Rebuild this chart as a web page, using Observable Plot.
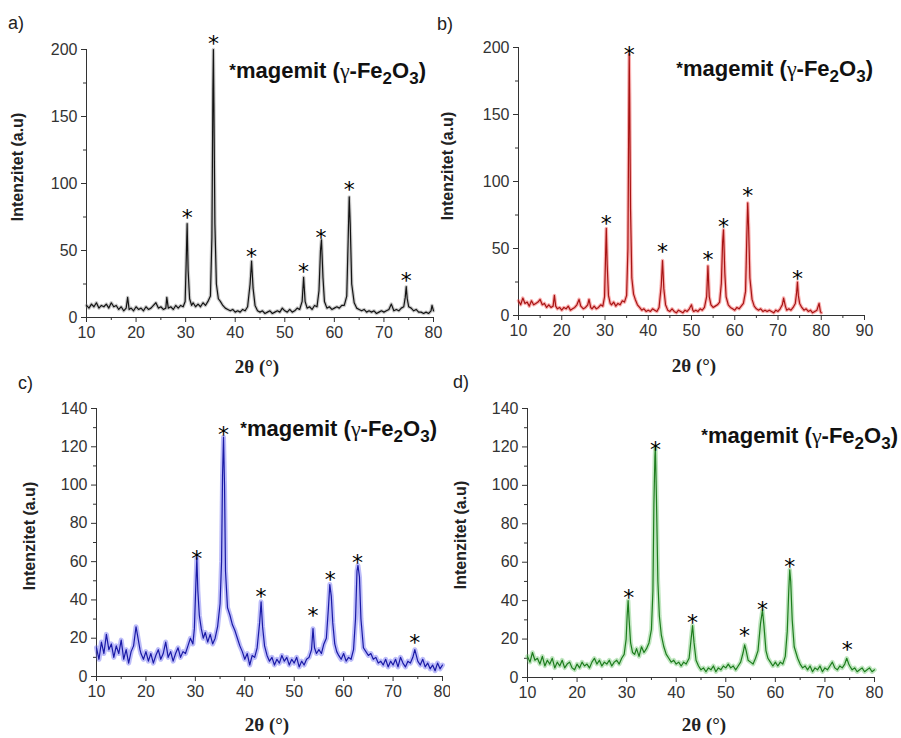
<!DOCTYPE html>
<html>
<head>
<meta charset="utf-8">
<script src="https://cdn.jsdelivr.net/npm/d3@7"></script>
<script src="https://cdn.jsdelivr.net/npm/@observablehq/plot@0.6"></script>
<style>
  html, body { margin: 0; padding: 0; background: white; }
  #wrap { position: relative; width: 901px; height: 738px; overflow: hidden; background: white; }
  .pane { position: absolute; }
  #overlay { position: absolute; left: 0; top: 0; pointer-events: none; }
</style>
</head>
<body>
<div id="wrap"></div>
<script>
// ---------------- DATA ----------------
const patternA = [[10,9],[10.5,7],[11,10],[11.5,8],[12,11],[12.5,7],[13,9],[13.5,8],[14,10],[14.5,7],[15,11],[15.5,8],[16,9],[16.5,6],[17,8],[17.5,5],[18,7],[18.3,15],[18.6,6],[19,7],[19.5,5],[20,8],[20.5,6],[21,7],[21.5,5],[22,8],[22.5,6],[23,7],[23.5,9],[24,11],[24.5,7],[25,8],[25.5,6],[26,7],[26.2,15],[26.5,7],[27,8],[27.5,6],[28,9],[28.5,7],[29,9],[29.5,8],[29.9,12],[30.1,40],[30.3,70],[30.5,35],[30.8,14],[31.2,9],[31.5,11],[32,8],[32.5,10],[33,8],[33.5,11],[34,9],[34.5,12],[35,16],[35.3,60],[35.5,170],[35.6,200],[35.7,160],[35.9,70],[36.2,25],[36.6,14],[37,12],[37.5,9],[38,7],[38.5,6],[39,5],[39.5,6],[40,4],[40.5,5],[41,4],[41.5,6],[42,5],[42.5,8],[43,25],[43.3,42],[43.6,22],[44,9],[44.5,5],[45,4],[45.5,5],[46,3],[46.5,4],[47,5],[47.5,3],[48,4],[48.5,5],[49,4],[49.5,7],[50,5],[50.5,4],[51,6],[51.5,4],[52,5],[52.5,7],[53,6],[53.5,12],[53.8,30],[54.1,12],[54.5,7],[55,8],[55.5,6],[56,9],[56.5,8],[56.9,20],[57.2,50],[57.4,58],[57.7,30],[58,12],[58.5,7],[59,8],[59.5,6],[60,7],[60.5,8],[61,7],[61.5,9],[62,9],[62.5,16],[62.8,60],[63,90],[63.2,70],[63.5,25],[64,11],[64.5,7],[65,6],[65.5,5],[66,6],[66.5,4],[67,5],[67.5,4],[68,5],[68.5,3],[69,4],[69.5,5],[70,4],[70.5,5],[71,6],[71.5,10],[72,5],[72.5,6],[73,5],[73.5,7],[74,8],[74.3,15],[74.5,23],[74.7,14],[75,8],[75.5,7],[76,5],[76.5,6],[77,4],[77.5,4],[78,3],[78.5,4],[79,3],[79.5,5],[79.7,9],[80,5]];

const patternB = [[10,11],[10.5,8],[11,13],[11.5,9],[12,10],[12.5,7],[13,11],[13.5,8],[14,9],[14.5,10],[15,12],[15.5,8],[16,9],[16.5,6],[17,8],[17.5,6],[18,7],[18.3,15],[18.6,7],[19,5],[19.5,6],[20,4],[20.5,6],[21,5],[21.5,7],[22,4],[22.5,5],[23,6],[23.5,8],[24,12],[24.4,7],[25,5],[25.5,6],[26,8],[26.3,12],[26.7,6],[27,5],[27.5,7],[28,5],[28.5,6],[29,8],[29.5,7],[29.9,14],[30.1,40],[30.3,65],[30.5,38],[30.8,15],[31.2,9],[31.5,8],[32,10],[32.5,7],[33,9],[33.5,8],[34,11],[34.5,10],[35,15],[35.3,50],[35.5,150],[35.6,195],[35.7,165],[35.9,80],[36.2,28],[36.6,16],[37,12],[37.5,8],[38,6],[38.5,4],[39,5],[39.5,3],[40,4],[40.5,3],[41,5],[41.5,4],[42,3],[42.5,6],[43,22],[43.3,41],[43.6,20],[44,8],[44.5,4],[45,3],[45.5,5],[46,3],[46.5,2],[47,4],[47.5,3],[48,2],[48.5,4],[49,3],[49.5,5],[50,8],[50.3,4],[50.5,3],[51,4],[51.5,3],[52,5],[52.5,4],[53,6],[53.5,14],[53.8,37],[54.1,14],[54.5,8],[55,6],[55.5,7],[56,8],[56.5,10],[56.9,24],[57.2,55],[57.4,64],[57.7,32],[58,14],[58.5,8],[59,6],[59.5,5],[60,4],[60.5,6],[61,5],[61.5,7],[62,9],[62.5,18],[62.8,60],[63,84],[63.2,66],[63.5,28],[64,12],[64.5,7],[65,5],[65.5,4],[66,5],[66.5,3],[67,4],[67.5,3],[68,4],[68.5,3],[69,2],[69.5,4],[70,3],[70.5,5],[71,8],[71.3,13],[71.7,7],[72,4],[72.5,5],[73,4],[73.5,6],[74,9],[74.3,17],[74.5,25],[74.7,15],[75,9],[75.5,6],[76,4],[76.5,5],[77,3],[77.5,4],[78,2],[78.5,3],[79,4],[79.5,9],[79.8,3],[80,2]];

const patternC = [[10,15],[10.5,9],[11,18],[11.5,12],[12,22],[12.5,14],[13,17],[13.5,10],[14,16],[14.5,12],[15,19],[15.5,9],[16,14],[16.5,7],[17,13],[17.5,16],[18,26],[18.4,20],[18.8,14],[19,12],[19.5,9],[20,13],[20.5,8],[21,12],[21.5,7],[22,11],[22.5,14],[23,9],[23.5,12],[24,18],[24.5,10],[25,13],[25.5,8],[26,12],[26.5,15],[27,10],[27.5,13],[28,12],[28.5,16],[29,20],[29.5,17],[29.8,25],[30.1,48],[30.3,62],[30.5,45],[30.8,32],[31.2,25],[31.6,20],[32,23],[32.5,18],[33,22],[33.5,17],[34,20],[34.5,26],[35,38],[35.3,60],[35.5,105],[35.7,125],[35.9,100],[36.1,55],[36.5,36],[37,32],[37.5,27],[38,24],[38.5,20],[39,16],[39.5,13],[40,9],[40.5,12],[41,6],[41.5,11],[42,10],[42.5,15],[43,28],[43.3,39],[43.6,26],[44,16],[44.5,11],[45,8],[45.5,10],[46,6],[46.5,9],[47,7],[47.5,11],[48,8],[48.5,10],[49,6],[49.5,9],[50,7],[50.5,10],[51,5],[51.5,8],[52,6],[52.5,9],[53,10],[53.5,14],[53.8,25],[54.1,15],[54.5,12],[55,14],[55.5,12],[56,17],[56.5,20],[56.9,35],[57.2,48],[57.5,42],[57.8,28],[58.2,17],[58.6,13],[59,11],[59.5,9],[60,12],[60.5,8],[61,10],[61.5,9],[62,14],[62.4,30],[62.7,55],[62.9,58],[63.2,52],[63.5,30],[64,15],[64.5,13],[65,11],[65.5,12],[66,9],[66.5,10],[67,7],[67.5,8],[68,6],[68.5,9],[69,5],[69.5,8],[70,6],[70.5,9],[71,5],[71.5,10],[72,7],[72.5,5],[73,8],[73.5,7],[74,10],[74.4,14],[74.8,10],[75,8],[75.5,6],[76,9],[76.5,5],[77,7],[77.5,4],[78,6],[78.5,3],[79,7],[79.5,4],[80,6]];

const patternD = [[10,11],[10.5,8],[11,13],[11.5,9],[12,10],[12.5,7],[13,11],[13.5,6],[14,9],[14.5,7],[15,10],[15.5,5],[16,8],[16.5,6],[17,9],[17.5,5],[18,7],[18.5,8],[19,5],[19.5,4],[20,7],[20.5,5],[21,8],[21.5,6],[22,7],[22.5,5],[23,8],[23.5,10],[24,7],[24.5,9],[25,6],[25.5,8],[26,7],[26.5,9],[27,6],[27.5,8],[28,9],[28.5,7],[29,10],[29.5,12],[29.9,20],[30.1,32],[30.3,40],[30.5,30],[30.8,18],[31.2,13],[31.6,12],[32,15],[32.5,11],[33,16],[33.5,13],[34,15],[34.5,18],[35,25],[35.3,45],[35.5,90],[35.7,115],[35.8,120],[36,95],[36.3,50],[36.6,32],[37,22],[37.5,16],[38,12],[38.5,10],[39,8],[39.5,9],[40,7],[40.5,8],[41,6],[41.5,8],[42,7],[42.6,10],[43,20],[43.3,27],[43.6,18],[44,9],[44.5,6],[45,4],[45.5,5],[46,3],[46.5,5],[47,4],[47.5,6],[48,3],[48.5,5],[49,4],[49.5,6],[50,5],[50.5,7],[51,5],[51.5,6],[52,4],[52.5,6],[53,8],[53.5,13],[53.8,17],[54.1,14],[54.5,9],[55,8],[55.5,7],[56,10],[56.5,14],[57,28],[57.4,35],[57.7,27],[58.1,14],[58.5,10],[59,8],[59.5,6],[60,8],[60.5,6],[61,8],[61.5,7],[62,11],[62.4,24],[62.7,45],[62.9,56],[63.1,50],[63.4,30],[63.8,16],[64.5,10],[65,7],[65.5,5],[66,6],[66.5,4],[67,6],[67.5,3],[68,5],[68.5,4],[69,6],[69.5,3],[70,5],[70.5,4],[71,6],[71.5,8],[72,5],[72.5,4],[73,6],[73.5,5],[74,7],[74.4,10],[74.8,7],[75,6],[75.5,4],[76,5],[76.5,3],[77,4],[77.5,5],[78,3],[78.5,4],[79,5],[79.5,3],[80,4]];

// peak markers (2θ, marker height)
const starsA = [[30.3,78],[35.6,208],[43.3,49],[53.8,38],[57.3,63],[63.0,99],[74.5,31]];
const starsB = [[30.3,72],[35.6,198],[43.3,51],[53.8,45],[57.4,70],[63.0,93],[74.5,31]];
const starsC = [[30.3,64],[35.7,129],[43.3,44],[53.8,34],[57.3,53],[62.8,62],[74.4,20]];
const starsD = [[30.4,44],[35.8,121],[43.3,31],[53.8,24],[57.4,38],[62.9,60],[74.5,17]];

// tick labels
const xTicks80 = [10,20,30,40,50,60,70,80];
const xMinor80 = [15,25,35,45,55,65,75];
const xTicks90 = [10,20,30,40,50,60,70,80,90];
const xMinor90 = [15,25,35,45,55,65,75,85];
const yTicks200 = [0,50,100,150,200];
const yMinor200 = [25,75,125,175];
const yTicks140 = [0,20,40,60,80,100,120,140];
const yMinor140 = [10,30,50,70,90,110,130];

const panelLetters = ["a)","b)","c)","d)"];
const yLabel = "Intenzitet (a.u)";
const xLabel = "2θ (°)";

// ---------------- DRAWING ----------------
const wrap = document.getElementById("wrap");

function panel(cfg) {
  const p = Plot.plot({
    width: cfg.w, height: cfg.h,
    marginLeft: cfg.ml, marginRight: cfg.mr, marginTop: cfg.mt, marginBottom: cfg.mb,
    style: {fontFamily: "'Liberation Sans', Arial, sans-serif", fontSize: "16px", color: "#333", background: "white"},
    x: {domain: cfg.xDomain},
    y: {domain: cfg.yDomain},
    marks: [
      Plot.axisX({ticks: cfg.xTicks, tickSize: 5, tickPadding: 4, label: null}),
      Plot.axisX({ticks: cfg.xMinor, tickSize: 3, tickFormat: () => "", label: null}),
      Plot.axisY({ticks: cfg.yTicks, tickSize: 5, tickPadding: 4, label: null}),
      Plot.axisY({ticks: cfg.yMinor, tickSize: 3, tickFormat: () => "", label: null}),
      Plot.ruleY([cfg.yDomain[0]], {stroke: "#333"}),
      Plot.ruleX([cfg.xDomain[0]], {stroke: "#333"}),
      Plot.line(cfg.data, {x: d => d[0], y: d => d[1], stroke: cfg.halo, strokeWidth: cfg.hw, strokeOpacity: 0.4}),
      Plot.line(cfg.data, {x: d => d[0], y: d => d[1], stroke: cfg.color, strokeWidth: 1.2}),
      Plot.text(cfg.stars, {x: d => d[0], y: d => d[1], text: () => "*", fontSize: 22, fontFamily: "DejaVu Sans", fill: "black", dy: 5})
    ]
  });
  const div = document.createElement("div");
  div.className = "pane";
  div.style.left = cfg.left + "px";
  div.style.top = cfg.top + "px";
  div.appendChild(p);
  wrap.appendChild(div);
}

panel({left: 0, top: 0, w: 450, h: 370, ml: 86, mr: 17, mt: 49, mb: 53,
  data: patternA, stars: starsA, color: "#141414", halo: "#7a7a7a", hw: 3.5,
  xDomain: [10, 80], xTicks: xTicks80, xMinor: xMinor80,
  yDomain: [0, 200], yTicks: yTicks200, yMinor: yMinor200});
panel({left: 450, top: 0, w: 451, h: 370, ml: 68, mr: 37, mt: 47, mb: 55,
  data: patternB, stars: starsB, color: "#a81414", halo: "#f03a3a", hw: 3.5,
  xDomain: [10, 90], xTicks: xTicks90, xMinor: xMinor90,
  yDomain: [0, 200], yTicks: yTicks200, yMinor: yMinor200});
panel({left: 0, top: 370, w: 450, h: 368, ml: 96, mr: 8, mt: 38, mb: 62,
  data: patternC, stars: starsC, color: "#1a1aa6", halo: "#5a5af0", hw: 5,
  xDomain: [10, 80], xTicks: xTicks80, xMinor: xMinor80,
  yDomain: [0, 140], yTicks: yTicks140, yMinor: yMinor140});
panel({left: 450, top: 370, w: 451, h: 368, ml: 77, mr: 27, mt: 38, mb: 61,
  data: patternD, stars: starsD, color: "#1d7d1d", halo: "#62c062", hw: 4.5,
  xDomain: [10, 80], xTicks: xTicks80, xMinor: xMinor80,
  yDomain: [0, 140], yTicks: yTicks140, yMinor: yMinor140});

// text overlay
const svg = d3.select(wrap).append("svg")
  .attr("id", "overlay").attr("width", 901).attr("height", 738)
  .attr("font-family", "'Liberation Sans', Arial, sans-serif");

const letterPos = [[8, 29], [437, 30], [18, 389], [453, 388]];
panelLetters.forEach((t, i) => {
  svg.append("text").attr("x", letterPos[i][0]).attr("y", letterPos[i][1])
    .attr("font-size", 18).attr("fill", "#222").text(t);
});

const yLabPos = [[23, 167], [453, 166], [35, 536], [466, 535]];
yLabPos.forEach(([x, y]) => {
  svg.append("text").attr("transform", `translate(${x},${y}) rotate(-90)`)
    .attr("text-anchor", "middle").attr("font-size", 16).attr("font-weight", "bold")
    .attr("fill", "#222").text(yLabel);
});

const xLabPos = [[257, 373], [694, 372], [267, 731], [704, 731]];
xLabPos.forEach(([x, y]) => {
  svg.append("text").attr("x", x).attr("y", y).attr("text-anchor", "middle")
    .attr("font-family", "'Liberation Serif', 'Times New Roman', serif")
    .attr("font-size", 19).attr("font-weight", "bold").attr("fill", "#222").text(xLabel);
});

const legendPos = [[426, 78], [873, 76], [437, 436], [898, 443]];
legendPos.forEach(([x, y]) => {
  const t = svg.append("text").attr("x", x).attr("y", y).attr("text-anchor", "end")
    .attr("font-size", 22).attr("font-weight", "bold").attr("fill", "#111");
  t.append("tspan").attr("font-size", 17).attr("dy", -2).text("*");
  t.append("tspan").attr("dy", 2).text("magemit (");
  t.append("tspan").attr("font-family", "'Liberation Serif', serif").attr("font-weight", "normal").text("γ");
  t.append("tspan").text("-Fe");
  t.append("tspan").attr("font-size", 17).attr("dy", 6).text("2");
  t.append("tspan").attr("dy", -6).text("O");
  t.append("tspan").attr("font-size", 17).attr("dy", 6).text("3");
  t.append("tspan").attr("dy", -6).text(")");
});
</script>
</body>
</html>
